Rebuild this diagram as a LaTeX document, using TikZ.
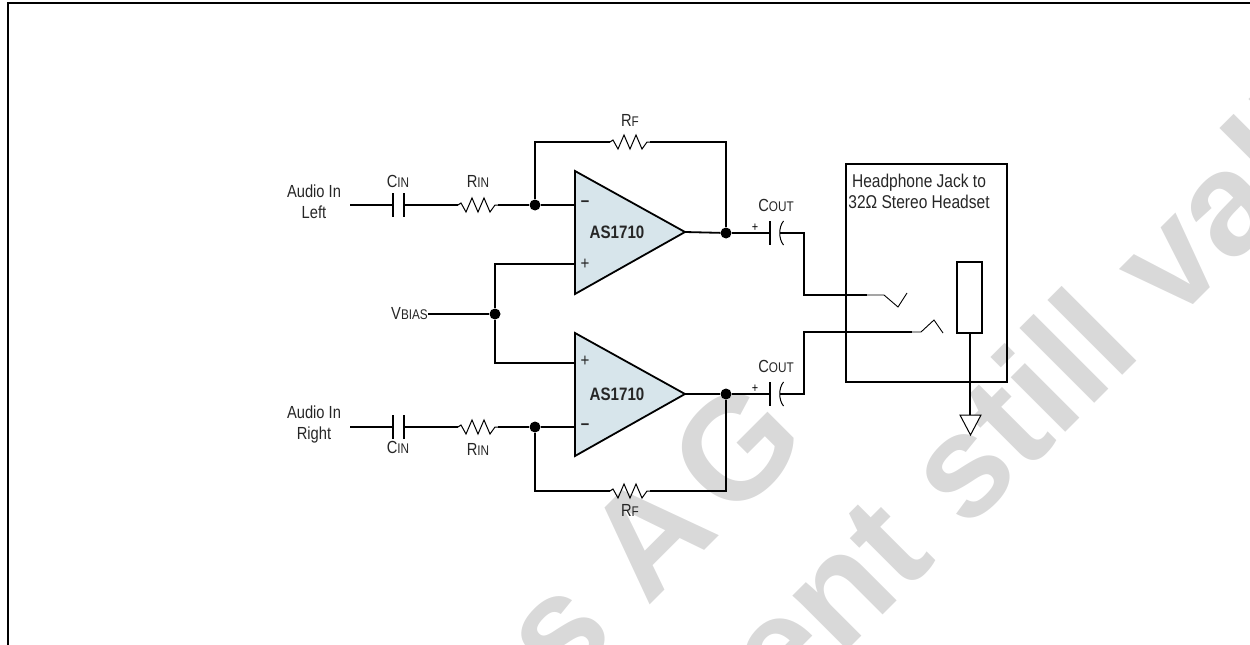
\documentclass[tikz,border=0pt]{standalone}
\usepackage{fontspec}
\setmainfont[FakeStretch=0.84]{Liberation Sans}
\newfontfamily\markfont{Liberation Sans}
\usetikzlibrary{positioning}
\usetikzlibrary{calc}
\definecolor{ampfill}{HTML}{D7E5EB}
\definecolor{markgray}{HTML}{D9D9D9}
\newcommand{\smc}[2]{#1{\fontsize{14}{16}\selectfont #2}}
\tikzset{
  wire/.style={line width=1.8pt},
  dot/.style={circle,fill=black,inner sep=0pt,minimum size=11pt},
  lab/.style={inner sep=0pt,font=\fontsize{17.5}{21}\selectfont,text=black!85},
  sign/.style={inner sep=0pt,font=\fontsize{18}{18}\selectfont,text=black!85},
  amplab/.style={inner sep=0pt,font=\bfseries\fontsize{18}{18}\selectfont,text=black!85},
  wmark/.style={inner sep=0pt,anchor=base west,rotate=45,text=markgray,font=\markfont\bfseries\fontsize{146}{146}\selectfont},
  res/.pic={
    \draw[line width=1pt] (-20,0) -- (-17,-2) -- (-12,7) -- (-6,-7) -- (0,7) -- (6,-7) -- (12,7) -- (17,0) -- (20,0);
    \coordinate (-w) at (-20,0);
    \coordinate (-e) at (20,0);
  },
  cap/.pic={
    \draw[wire] (-5.5,-12) -- (-5.5,12);
    \draw[wire] (5.5,-12) -- (5.5,12);
    \coordinate (-w) at (-5.5,0);
    \coordinate (-e) at (5.5,0);
  },
  pcap/.pic={
    \draw[wire] (-5.5,-12) -- (-5.5,12);
    \draw[line width=1pt] (8,-12) .. controls (3,-6) and (3,6) .. (8,12);
    \coordinate (-w) at (-5.5,0);
    \coordinate (-e) at (4.5,0);
  },
}
\begin{document}
\begin{tikzpicture}[x=1pt,y=-1pt,node distance=2em]
\useasboundingbox (0,0) rectangle (1250,645);
\begin{scope}
\clip (0,0) rectangle (1250,645);
\node[wmark] (wa) at (561,694) {s A\kern14pt G};
\node[wmark] (wb) at (783,715) {ent still valid};
\draw[line width=2pt] (8,645) -- (8,3) -- (1250,3);
\end{scope}
% upper amplifier
\path[draw,wire,fill=ampfill] (575,171) -- (575,294) -- (685,232) -- cycle;
\node[amplab] (au) at (617,232) {AS1710};
\coordinate (um) at (575,205);
\coordinate (up) at (575,264);
\coordinate (uo) at (685,232);
\node[sign] at (585,204) {\bfseries –};
\node[sign] at (585,264) {+};
% lower amplifier
\path[draw,wire,fill=ampfill] (575,333) -- (575,456) -- (685,394) -- cycle;
\node[amplab] (al) at (617,394) {AS1710};
\coordinate (lp) at (575,363);
\coordinate (lm) at (575,427);
\coordinate (lo) at (685,394);
\node[sign] at (585,361) {+};
\node[sign] at (585,427) {\bfseries –};
% left input
\node[align=center,lab] (inl) at (314,202) {Audio In\\Left};
\coordinate (inla) at (350,205);
\path (398.5,205) pic (cl) {cap};
\path (478,205) pic (rl) {res};
\node[dot] (jl) at (535,205) {};
\draw[wire] (inla) -- (cl-w);
\draw[wire] (cl-e) -- (rl-w);
\draw[wire] (rl-e) -- (jl) -- (um);
\node[lab,above=17pt of cl-w,xshift=5pt] (cll) {\smc{C}{IN}};
\node[lab,above=17pt of rl-w,xshift=20pt] (rll) {\smc{R}{IN}};
% right input
\node[align=center,lab] (inr) at (314,424.5) {Audio In\\Right};
\coordinate (inra) at (350,427);
\path (398.5,427) pic (cr) {cap};
\path (478,427) pic (rr) {res};
\node[dot] (jr) at (535,427) {};
\draw[wire] (inra) -- (cr-w);
\draw[wire] (cr-e) -- (rr-w);
\draw[wire] (rr-e) -- (jr) -- (lm);
\node[lab,below=14pt of cr-w,xshift=5pt] (crl) {\smc{C}{IN}};
\node[lab,below=16pt of rr-w,xshift=20pt] (rrl) {\smc{R}{IN}};
% bias
\node[lab,anchor=east] (vb) at (428,314) {\smc{V}{BIAS}};
\node[dot] (jb) at (495,314) {};
\draw[wire] (vb.east) -- (jb);
\draw[wire] (up) -| (jb);
\draw[wire] (lp) -| (jb);
% feedback
\node[dot] (ol) at (726,233) {};
\node[dot] (or) at (726,394) {};
\path (630,142) pic (rfu) {res};
\path (630,491) pic (rfl) {res};
\draw[wire] (jl) |- (rfu-w);
\draw[wire] (rfu-e) -| (ol);
\draw[wire] (jr) |- (rfl-w);
\draw[wire] (rfl-e) -| (or);
\draw[wire] (uo) -- (ol);
\draw[wire] (lo) -- (or);
\node[lab,above=15pt of rfu-w,xshift=20pt] (rful) {\smc{R}{F}};
\node[lab,below=13pt of rfl-w,xshift=20pt] (rfll) {\smc{R}{F}};
% outputs
\path (775.5,233) pic (co) {pcap};
\path (775.5,394) pic (cb) {pcap};
\draw[wire] (ol) -- (co-w);
\draw[wire] (or) -- (cb-w);
\node[inner sep=0pt,font=\fontsize{13}{13}\selectfont] (pu) at (755,228) {+};
\node[inner sep=0pt,font=\fontsize{13}{13}\selectfont] (pl) at (755,389) {+};
\node[lab] (cou) at (776,205) {\smc{C}{OUT}};
\node[lab] (col) at (776,366) {\smc{C}{OUT}};
% jack
\node[draw,wire,inner sep=0pt,minimum width=161pt,minimum height=218pt] (jack) at (926.5,273) {};
\node[lab,align=center,font=\fontsize{18.5}{21}\selectfont] (jt) at (919,191.5) {Headphone Jack to\\32Ω Stereo Headset};
\node[draw,wire,inner sep=0pt,minimum width=25pt,minimum height=71pt] (spk) at (969.5,297.5) {};
\coordinate (tu) at (867,295);
\coordinate (tl) at (912,332);
\coordinate (cu) at (804,233);
\coordinate (cl2) at (804,394);
\draw[wire] (co-e) -- (cu) -- (cu |- tu) -- (tu);
\draw[wire] (cb-e) -- (cl2) -- (cl2 |- tl) -- (tl);
\draw[line width=.9pt] (tu) -- (884,295) -- (898,307) -- (907,293);
\draw[line width=.9pt] (tl) -- (921,332) -- (934,320) -- (943,333);
\coordinate (gnd) at (970,415);
\draw[wire] (spk.south -| gnd) -- (gnd);
\draw[line width=1pt,fill=white] (960,415) -- (981,415) -- (970.5,435) -- cycle;
\end{tikzpicture}
\end{document}
